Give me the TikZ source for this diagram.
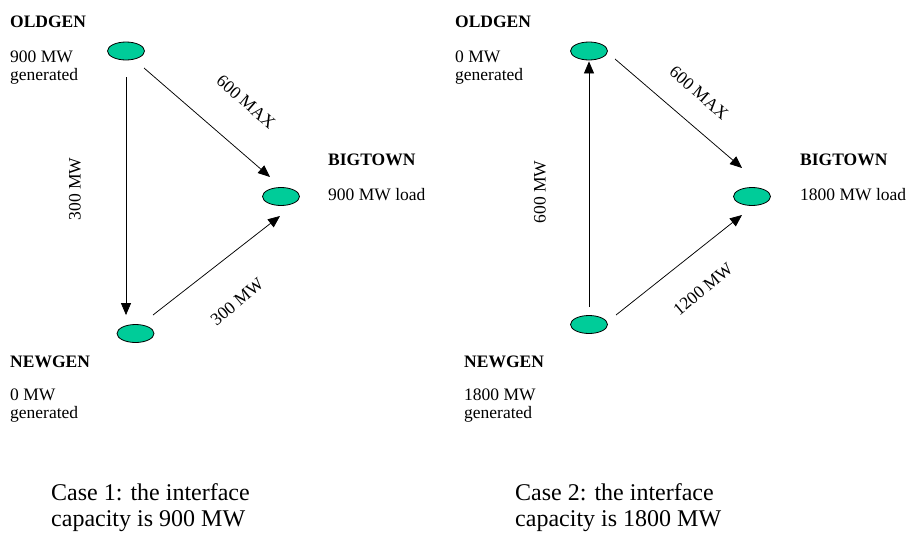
\documentclass[tikz,border=0pt]{standalone}
\usepackage{fontspec}
\setmainfont{Liberation Serif}
\usetikzlibrary{arrows.meta,shapes.geometric}

\definecolor{busgreen}{RGB}{0,204,153}

\tikzset{
  bus/.style={ellipse, draw=black, line width=0.8pt, fill=busgreen,
    minimum width=37pt, minimum height=18pt, inner sep=0pt},
  flow/.style={line width=0.75pt, -{Triangle[length=12pt,width=10pt]}},
  txt/.style={anchor=base west, inner sep=0pt, font=\fontsize{17.5}{18}\selectfont},
  busname/.style={txt, font=\fontsize{17.5}{18}\selectfont\bfseries},
  flowlbl/.style={inner sep=0pt, font=\fontsize{17.5}{18}\selectfont},
  casetext/.style={anchor=base west, inner sep=0pt, font=\fontsize{24}{27}\selectfont}
}

\begin{document}
\begin{tikzpicture}[x=1pt,y=-1pt]
\useasboundingbox (0,0) rectangle (910,533);

% case 1
\node[bus] (o1) at (126,51) {};
\node[bus] (b1) at (281,196.5) {};
\node[bus] (n1) at (135.5,333.5) {};

\node[busname] (o1name) at (10,27) {OLDGEN};
\node[txt] (o1mw) at (10,62) {900 MW};
\node[txt] (o1gen) at (10,80) {generated};
\node[busname] (b1name) at (328,165) {BIGTOWN};
\node[txt] (b1load) at (328,200) {900 MW load};
\node[busname] (n1name) at (10,367) {NEWGEN};
\node[txt] (n1mw) at (10,400) {0 MW};
\node[txt] (n1gen) at (10,418) {generated};

\draw[flow, shorten <=17pt, shorten >=9pt] (o1.south) -- (o1.south |- n1.north);
\draw[flow] ([shift={(18,17)}]o1.center) -- ([shift={(-11,-19.5)}]b1.center);
\draw[flow] ([shift={(17.5,-18.5)}]n1.center) -- ([shift={(-1,19.5)}]b1.center);

\node[flowlbl, rotate=90] (f1a) at (75,189) {300 MW};
\node[flowlbl, rotate=-41] (f1b) at (246,102) {600 MAX};
\node[flowlbl, rotate=40] (f1c) at (237,302) {300 MW};

\node[casetext] (case1a) at (51,500) {Case 1: the interface};
\node[casetext] (case1b) at (51,526) {capacity is 900 MW};

% case 2
\node[bus] (o2) at (589,51) {};
\node[bus] (b2) at (752,196.5) {};
\node[bus] (n2) at (589,324.5) {};

\node[busname] (o2name) at (455,27) {OLDGEN};
\node[txt] (o2mw) at (455,62) {0 MW};
\node[txt] (o2gen) at (455,80) {generated};
\node[busname] (b2name) at (800,165) {BIGTOWN};
\node[txt] (b2load) at (800,200) {1800 MW load};
\node[busname] (n2name) at (464,367) {NEWGEN};
\node[txt] (n2mw) at (464,400) {1800 MW};
\node[txt] (n2gen) at (464,418) {generated};

\draw[flow, shorten <=8pt, shorten >=1pt] (n2.north) -- (o2.south);
\draw[flow] ([shift={(26,8)}]o2.center) -- ([shift={(-10,-28.5)}]b2.center);
\draw[flow] ([shift={(27,-9.5)}]n2.center) -- ([shift={(-10,18.5)}]b2.center);

\node[flowlbl, rotate=90] (f2a) at (540,192) {600 MW};
\node[flowlbl, rotate=-41] (f2b) at (699,93) {600 MAX};
\node[flowlbl, rotate=40] (f2c) at (703,289) {1200 MW};

\node[casetext] (case2a) at (515,500) {Case 2: the interface};
\node[casetext] (case2b) at (515,526) {capacity is 1800 MW};

\end{tikzpicture}
\end{document}
